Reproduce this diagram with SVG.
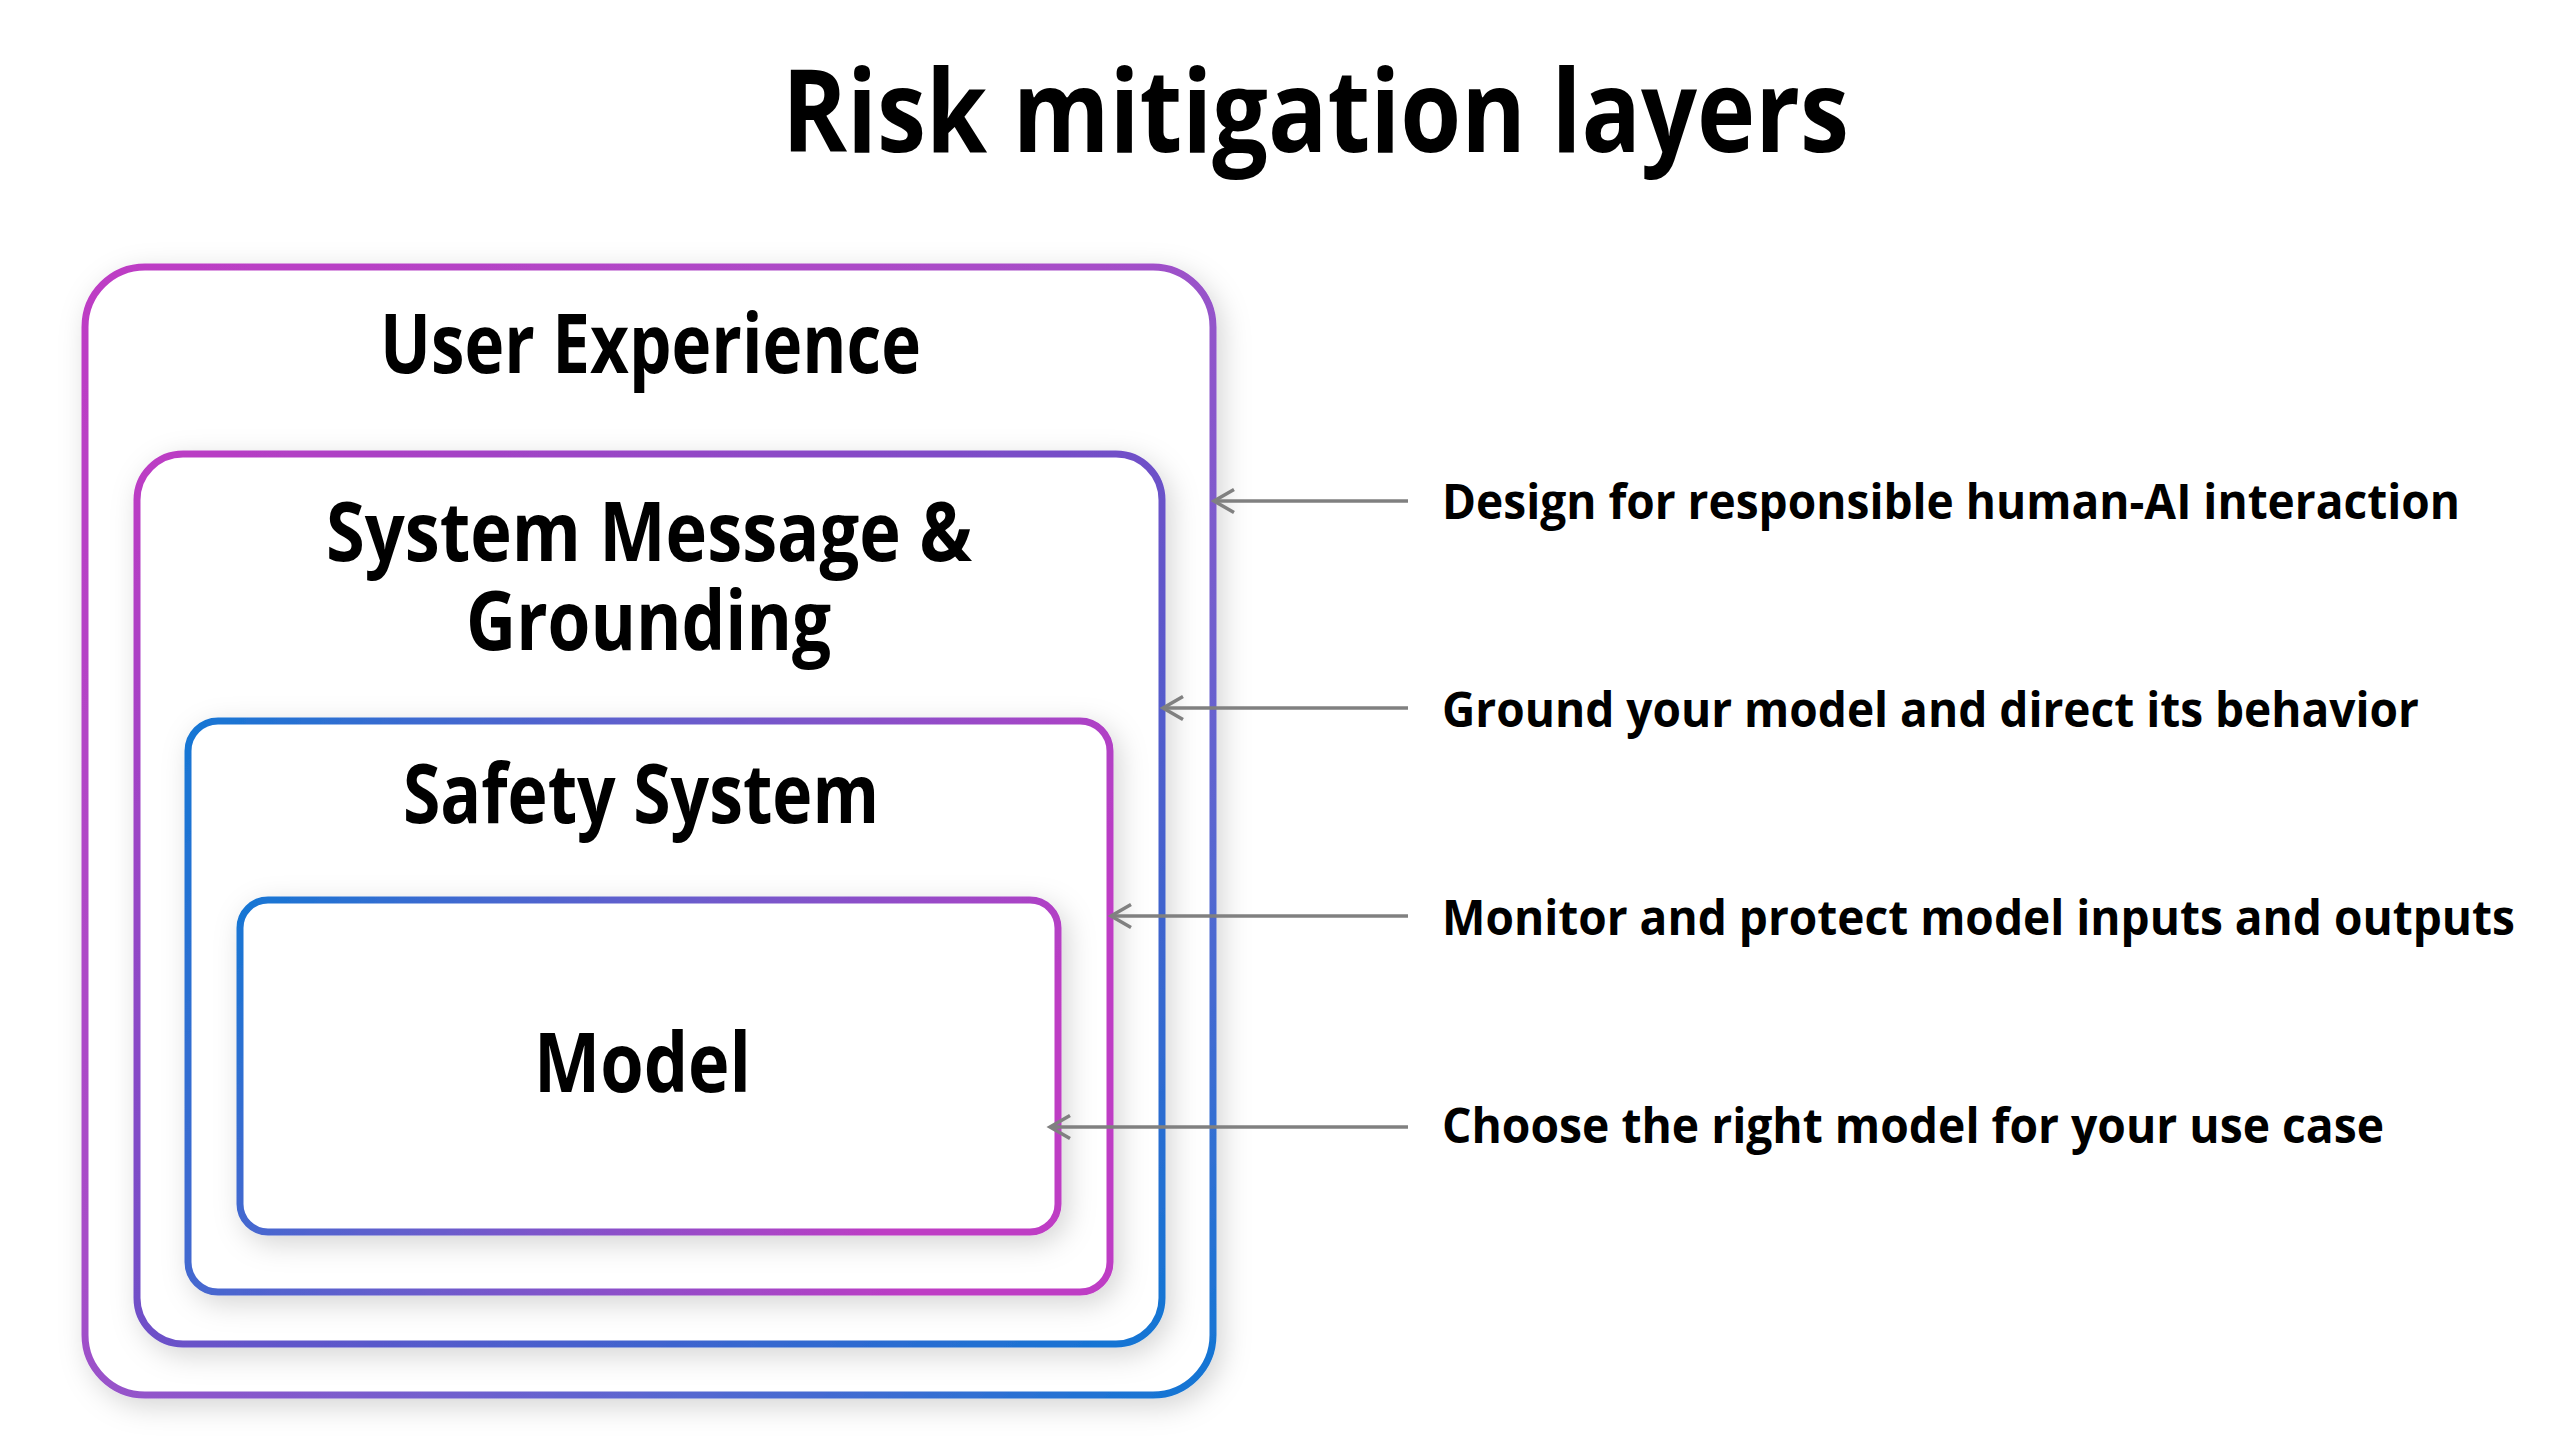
<svg xmlns="http://www.w3.org/2000/svg" width="2566" height="1442" viewBox="0 0 2566 1442">
  <style>
    .box { fill: #ffffff; stroke-width: 7; filter: url(#shadow); }
    .title { font-family: "Open Sans", "Noto Sans", "Liberation Sans", sans-serif; font-weight: 700; fill: #000000; }
    .head { font-family: "Open Sans", "Noto Sans", "Liberation Sans", sans-serif; font-weight: 700; font-size: 82px; fill: #000000; }
    .label { font-family: "Open Sans", "Noto Sans", "Liberation Sans", sans-serif; font-weight: 700; font-size: 48px; fill: #000000; }
    .conn { stroke: #808080; stroke-width: 3.5; fill: none; marker-end: url(#chev); }
  </style>
  <defs>
    <filter id="shadow" x="-10%" y="-10%" width="125%" height="125%">
      <feDropShadow dx="6" dy="8" stdDeviation="14" flood-color="#000000" flood-opacity="0.17"/>
    </filter>
    <linearGradient id="gOuter" x1="0" y1="0" x2="1" y2="1">
      <stop offset="0" stop-color="#BE3CC4"/>
      <stop offset="0.45" stop-color="#A64EC8"/>
      <stop offset="0.75" stop-color="#5A66D0"/>
      <stop offset="1" stop-color="#1276D4"/>
    </linearGradient>
    <linearGradient id="gSys" x1="0" y1="0" x2="1" y2="1">
      <stop offset="0" stop-color="#BE3CC4"/>
      <stop offset="0.5" stop-color="#6E50C8"/>
      <stop offset="1" stop-color="#1276D4"/>
    </linearGradient>
    <linearGradient id="gInner" x1="0" y1="0" x2="1" y2="0.3">
      <stop offset="0" stop-color="#1676D4"/>
      <stop offset="0.5" stop-color="#6A5CCC"/>
      <stop offset="1" stop-color="#BE3CC4"/>
    </linearGradient>
    <marker id="chev" markerUnits="userSpaceOnUse" markerWidth="40" markerHeight="40" refX="0" refY="0" orient="auto" viewBox="-30 -20 40 40" overflow="visible">
      <path d="M -20 -11.5 L 0 0 L -20 11.5" fill="none" stroke="#808080" stroke-width="3.5"/>
    </marker>
  </defs>

  <rect x="0" y="0" width="2566" height="1442" fill="#ffffff"/>

  <text id="title" class="title" x="782" y="152" font-size="114" textLength="1067" lengthAdjust="spacingAndGlyphs">Risk mitigation layers</text>

  <g id="user-experience">
    <rect class="box" x="85" y="267" width="1128" height="1128" rx="60" stroke="url(#gOuter)"/>
    <text class="head" x="380" y="373" textLength="541" lengthAdjust="spacingAndGlyphs">User Experience</text>
  </g>

  <g id="system-message">
    <rect class="box" x="137" y="454" width="1025" height="890" rx="46" stroke="url(#gSys)"/>
    <text class="head" x="326" y="561" textLength="646" lengthAdjust="spacingAndGlyphs">System Message &amp;</text>
    <text class="head" x="466" y="650" textLength="365" lengthAdjust="spacingAndGlyphs">Grounding</text>
  </g>

  <g id="safety-system">
    <rect class="box" x="188" y="721" width="922" height="571" rx="30" stroke="url(#gInner)"/>
    <text class="head" x="403" y="823" textLength="476" lengthAdjust="spacingAndGlyphs">Safety System</text>
  </g>

  <g id="model">
    <rect class="box" x="240" y="900" width="818" height="332" rx="28" stroke="url(#gInner)"/>
    <text class="head" x="534" y="1092" textLength="217" lengthAdjust="spacingAndGlyphs">Model</text>
  </g>

  <g id="connectors">
    <line class="conn" x1="1408" y1="501" x2="1214" y2="501"/>
    <line class="conn" x1="1408" y1="708" x2="1163" y2="708"/>
    <line class="conn" x1="1408" y1="916" x2="1111" y2="916"/>
    <line class="conn" x1="1408" y1="1127" x2="1050" y2="1127"/>
  </g>

  <g id="labels">
    <text id="label-1" class="label" x="1442" y="519" textLength="1018" lengthAdjust="spacingAndGlyphs">Design for responsible human-AI interaction</text>
    <text id="label-2" class="label" x="1442" y="727" textLength="977" lengthAdjust="spacingAndGlyphs">Ground your model and direct its behavior</text>
    <text id="label-3" class="label" x="1442" y="935" textLength="1073" lengthAdjust="spacingAndGlyphs">Monitor and protect model inputs and outputs</text>
    <text id="label-4" class="label" x="1442" y="1143" textLength="942" lengthAdjust="spacingAndGlyphs">Choose the right model for your use case</text>
  </g>
</svg>
